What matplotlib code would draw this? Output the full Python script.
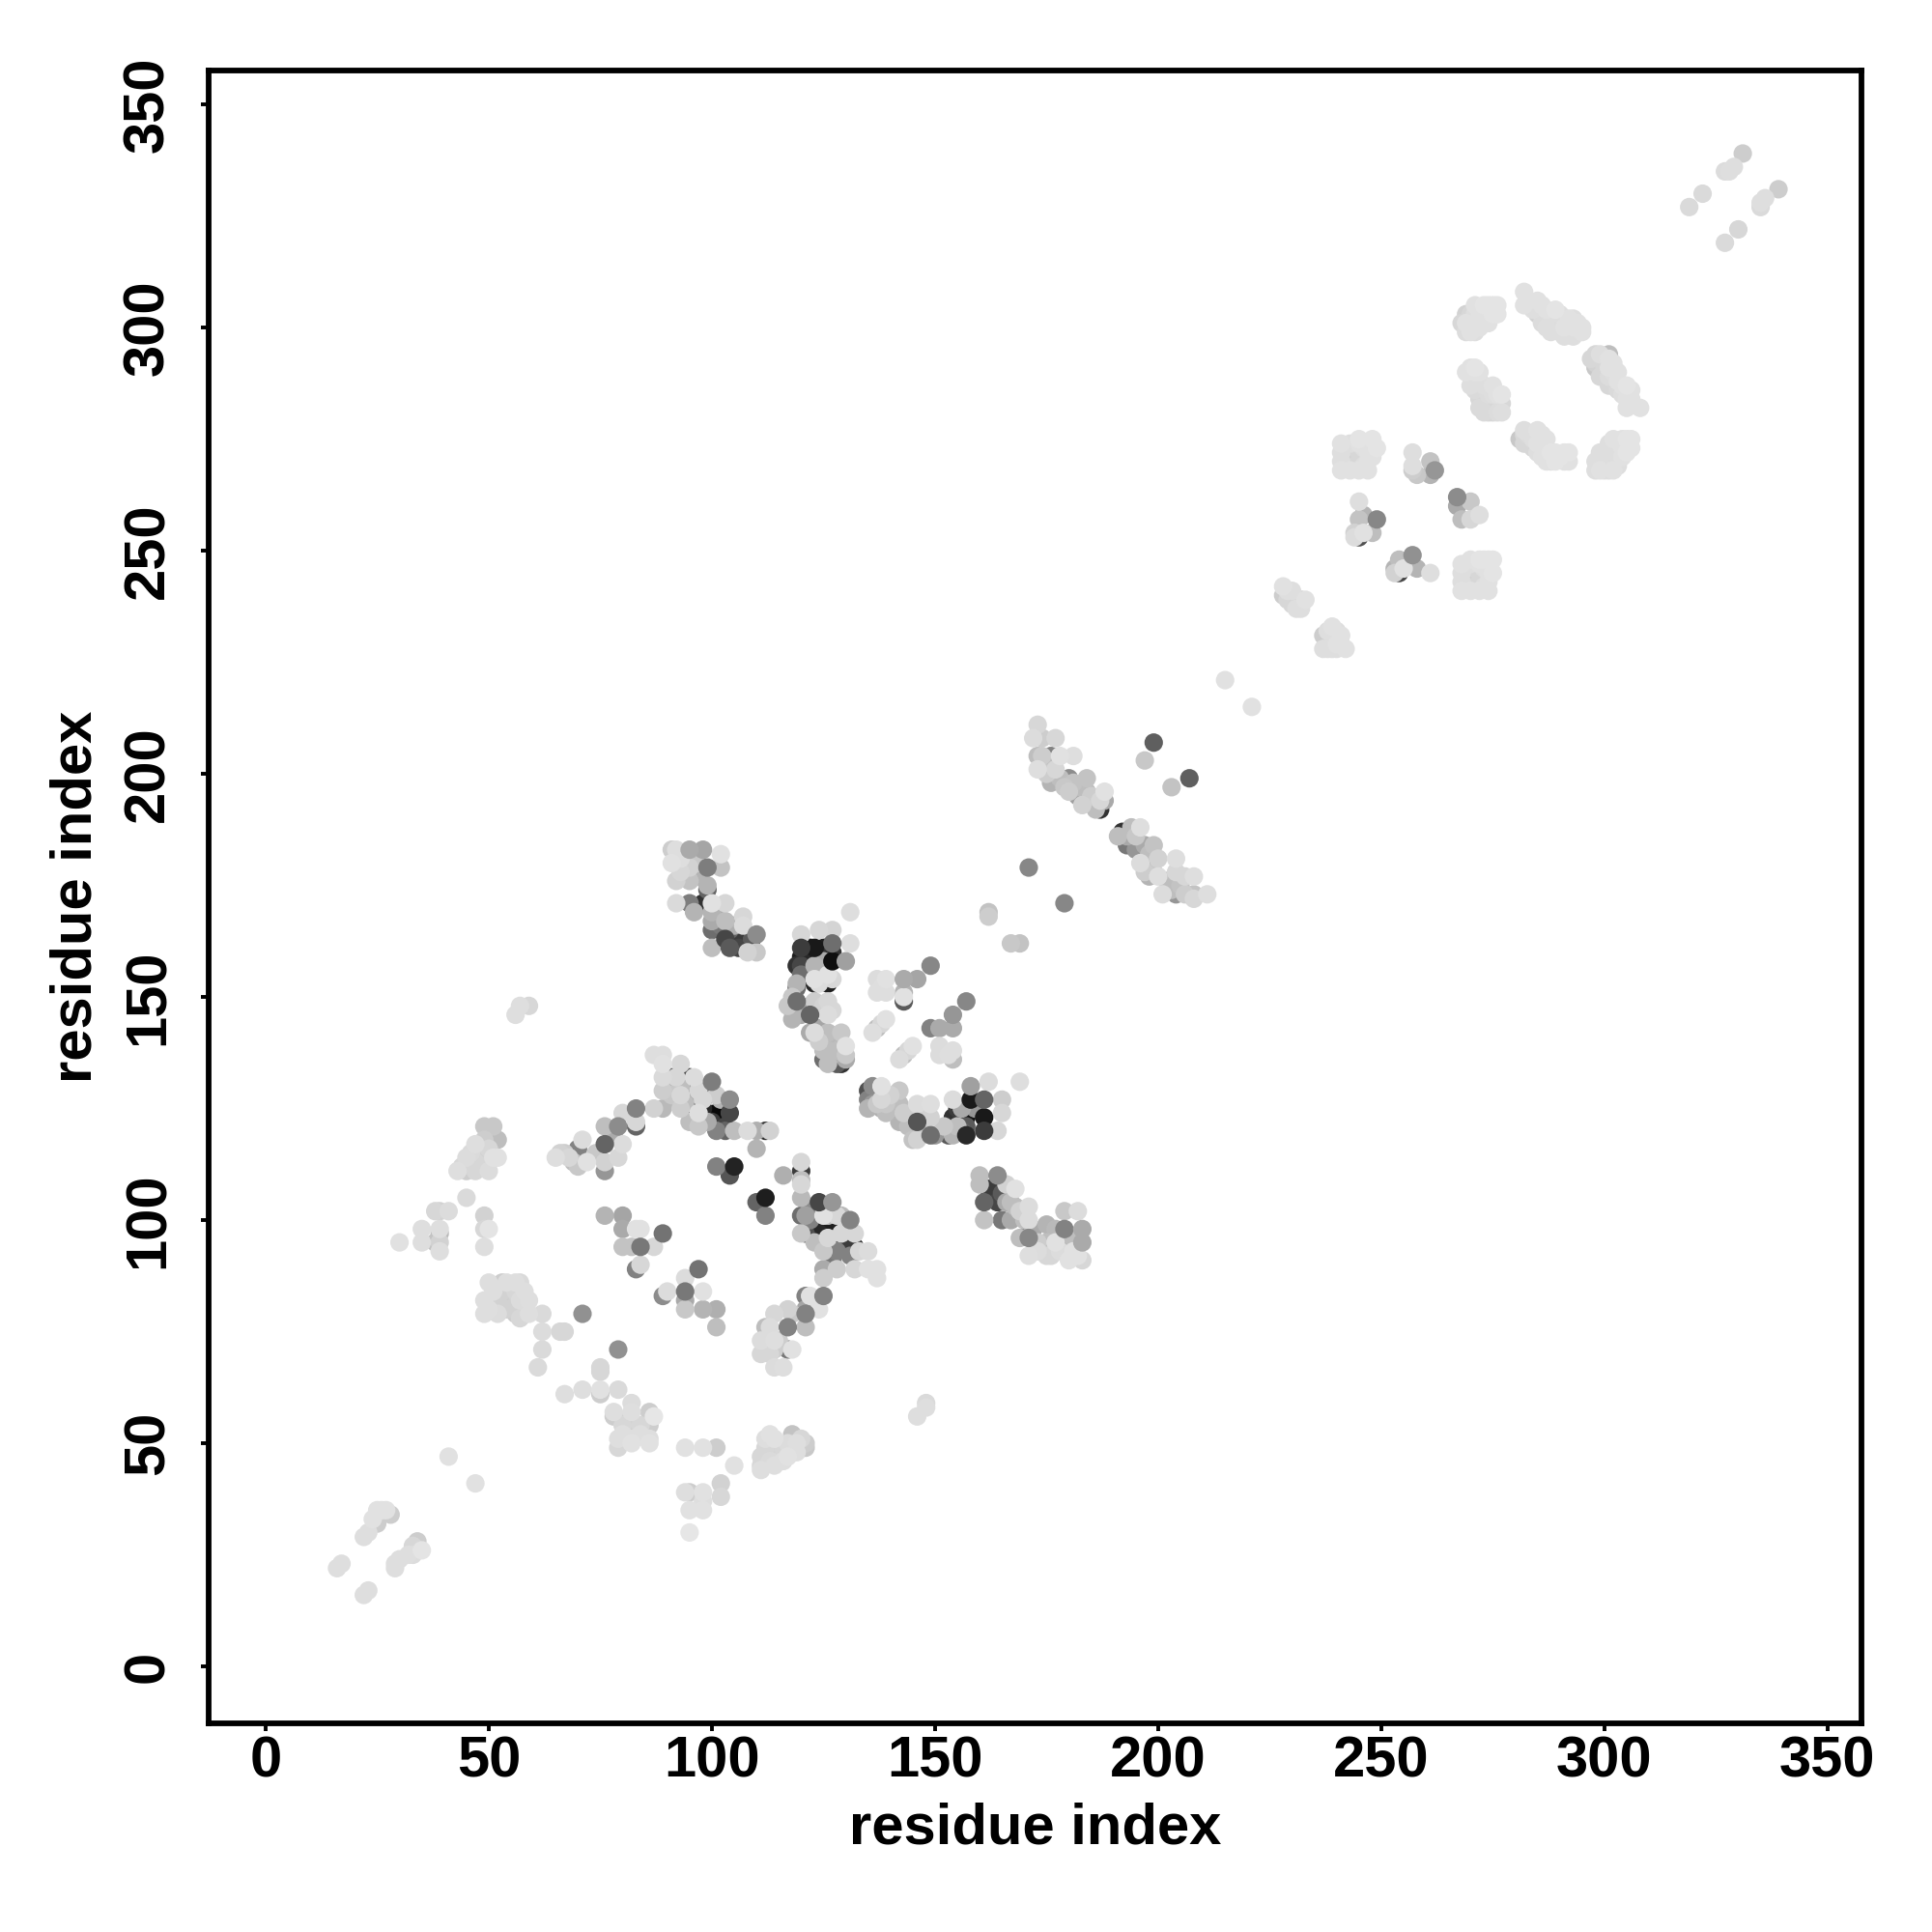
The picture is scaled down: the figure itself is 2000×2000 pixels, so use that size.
import numpy as np
import matplotlib
matplotlib.use("Agg")
import matplotlib.pyplot as plt

# each contact is (residue i, residue j, grey level 0-255)
n_term = [(16, 22, 222), (17, 23, 222), (22, 16, 222), (23, 17, 222), (22, 29, 222), (23, 30, 222),
          (24, 33, 225), (25, 35, 225), (26, 35, 225), (25, 32, 205), (27, 35, 225), (28, 34, 205),
          (29, 22, 222), (29, 23, 222), (30, 24, 222), (32, 25, 222), (33, 27, 215), (34, 28, 205),
          (35, 26, 228), (33, 25, 220), (41, 47, 225), (47, 41, 225)]
left_low = [(30, 95, 225), (35, 95, 222), (35, 98, 222), (38, 102, 215), (39, 102, 210), (41, 102, 220),
            (39, 98, 222), (39, 97, 185), (39, 95, 210), (38, 95, 195), (39, 93, 222), (45, 105, 218),
            (49, 101, 210), (49, 98, 215), (50, 98, 228), (49, 94, 222)]
left_high = [(49, 121, 200), (51, 121, 200), (52, 118, 190), (52, 114, 225), (47, 117, 222), (49, 118, 205),
             (50, 116, 215), (45, 114, 220), (47, 113, 215), (43, 111, 222), (45, 111, 205), (47, 111, 215),
             (48, 113, 210), (50, 111, 220), (51, 114, 225), (56, 146, 222), (57, 148, 222), (59, 148, 215),
             (44, 112, 215), (46, 115, 218), (48, 115, 210), (49, 112, 215)]
left_mid = [(50, 86, 222), (54, 86, 222), (56, 86, 222), (57, 86, 218), (53, 86, 205), (49, 82, 222),
            (52, 82, 210), (54, 82, 205), (57, 82, 220), (59, 82, 222), (49, 79, 222), (52, 79, 220),
            (56, 79, 205), (57, 78, 215), (59, 79, 222), (62, 79, 218), (62, 75, 220), (66, 75, 215),
            (67, 75, 215), (62, 71, 218), (61, 67, 218), (71, 79, 145), (79, 71, 145),
            (51, 84, 222), (53, 84, 210), (55, 84, 205), (56, 84, 215), (58, 84, 222), (50, 80, 222),
            (54, 80, 210), (56, 81, 210)]
low_arm = [(67, 61, 222), (71, 62, 222), (75, 67, 215), (75, 66, 215), (75, 62, 225), (75, 61, 205),
           (79, 62, 218), (78, 57, 222), (82, 59, 220), (82, 57, 222), (78, 56, 205), (81, 55, 210),
           (82, 53, 205), (86, 57, 205), (87, 56, 230), (86, 54, 205), (79, 51, 222), (79, 49, 215),
           (82, 50, 225), (82, 51, 222), (86, 50, 225), (86, 51, 222), (80, 54, 215), (84, 54, 215),
           (84, 52, 222), (80, 52, 222)]
low_mid = [(94, 49, 225), (98, 49, 225), (101, 49, 205), (105, 45, 225), (95, 39, 205), (94, 39, 222),
           (98, 39, 225), (102, 41, 210), (102, 38, 215), (98, 37, 222), (95, 35, 225), (98, 35, 225),
           (95, 30, 230), (111, 44, 222), (111, 45, 215), (111, 47, 215), (112, 49, 215), (113, 52, 225),
           (112, 46, 210), (114, 48, 205), (114, 45, 222), (117, 47, 225), (118, 52, 195), (121, 50, 205),
           (121, 49, 200), (116, 49, 215), (114, 51, 225), (112, 51, 222), (146, 56, 222), (148, 59, 218),
           (148, 58, 222), (113, 47, 210), (113, 46, 218), (115, 46, 215), (115, 49, 212), (117, 50, 220),
           (119, 50, 222), (120, 51, 215), (119, 48, 222), (116, 46, 222)]
arm_125 = [(87, 137, 222), (89, 137, 222), (89, 135, 225), (93, 135, 215), (89, 132, 218), (89, 129, 205),
           (87, 125, 210), (89, 125, 185), (93, 125, 205), (92, 132, 215), (91, 132, 90), (96, 132, 220),
           (95, 132, 70), (100, 131, 125), (104, 127, 140), (104, 124, 70), (101, 124, 10), (101, 128, 205),
           (99, 128, 30), (97, 129, 215), (96, 127, 40), (97, 124, 222), (96, 124, 25), (97, 121, 200),
           (101, 120, 130), (100, 122, 60), (105, 120, 190), (103, 120, 100), (108, 120, 220), (110, 120, 175),
           (112, 120, 50), (113, 120, 210), (110, 116, 180), (91, 128, 200), (93, 130, 190), (93, 128, 215),
           (94, 129, 70), (95, 128, 170), (94, 126, 190), (92, 127, 185), (98, 127, 215), (98, 125, 40),
           (99, 122, 170), (103, 121, 70), (102, 127, 180), (95, 122, 190), (90, 130, 180)]
arm_115 = [(83, 125, 130), (80, 124, 215), (83, 122, 215), (83, 121, 100), (79, 121, 140), (76, 121, 190),
           (80, 117, 220), (76, 117, 100), (71, 118, 220), (70, 116, 130), (66, 115, 210), (68, 114, 215),
           (70, 112, 200), (72, 113, 225), (76, 113, 210), (76, 111, 150), (79, 114, 215), (65, 114, 222),
           (67, 115, 205), (69, 113, 190), (74, 115, 200), (78, 119, 170)]
sheet_100 = [(76, 101, 180), (80, 101, 165), (80, 98, 170), (80, 94, 195), (82, 94, 195), (83, 98, 225),
             (84, 98, 225), (84, 94, 120), (87, 94, 215), (89, 97, 115), (83, 89, 130), (84, 90, 215),
             (97, 89, 115), (94, 87, 220), (89, 83, 140), (90, 84, 220), (94, 84, 120), (94, 82, 170),
             (94, 80, 200), (98, 84, 225), (98, 80, 180), (101, 80, 175), (101, 76, 190), (101, 112, 130),
             (104, 110, 85), (105, 112, 35), (112, 105, 30), (110, 104, 100), (112, 101, 130)]
sheet_97 = [(116, 110, 175), (120, 113, 215), (120, 111, 60), (120, 109, 190), (120, 108, 215), (120, 105, 185),
            (120, 101, 110), (121, 101, 160), (120, 97, 200), (124, 104, 70), (127, 104, 150), (131, 100, 130),
            (124, 100, 20), (125, 101, 225), (128, 101, 215), (127, 99, 20), (124, 97, 40), (125, 93, 200),
            (128, 93, 130), (127, 93, 40), (128, 97, 20), (129, 97, 215), (126, 96, 215), (132, 97, 215),
            (132, 94, 50), (133, 93, 215), (135, 93, 220), (125, 89, 170), (125, 87, 205), (128, 89, 205),
            (132, 89, 215), (135, 89, 225), (137, 89, 225), (137, 87, 225), (123, 99, 40), (126, 99, 30),
            (126, 101, 190), (129, 99, 30), (129, 101, 185), (130, 98, 215), (130, 95, 60), (131, 92, 130),
            (127, 91, 120), (123, 95, 190), (122, 100, 130), (122, 103, 140), (121, 97, 80)]
sheet_75 = [(125, 83, 130), (121, 83, 130), (122, 83, 225), (124, 80, 225), (121, 79, 130), (121, 80, 165),
            (117, 80, 210), (118, 79, 200), (114, 79, 215), (121, 76, 190), (117, 76, 130), (112, 76, 190),
            (113, 76, 220), (118, 71, 225), (117, 71, 120), (114, 71, 205), (111, 73, 220), (111, 70, 215),
            (113, 70, 215), (114, 67, 220), (116, 67, 222), (114, 73, 222), (115, 73, 205)]
block_160 = [(131, 169, 222), (131, 162, 222), (130, 158, 160), (120, 164, 215), (124, 165, 215), (127, 165, 212),
             (120, 161, 60), (123, 161, 25), (122, 161, 25), (127, 162, 110), (127, 160, 50), (119, 157, 50),
             (120, 157, 70), (123, 157, 180), (122, 158, 30), (127, 158, 15), (119, 153, 180), (119, 152, 110),
             (123, 154, 225), (123, 153, 40), (127, 154, 215), (126, 153, 30), (125, 158, 170), (120, 155, 110),
             (121, 156, 40), (121, 159, 40), (124, 156, 30), (124, 153, 220), (126, 155, 225), (120, 159, 30),
             (125, 161, 30)]
block_145 = [(119, 149, 110), (118, 145, 180), (118, 147, 180), (117, 148, 200), (123, 149, 205), (122, 146, 100),
             (126, 149, 215), (126, 146, 220), (122, 142, 170), (123, 142, 220), (126, 142, 190), (129, 142, 200),
             (125, 138, 190), (125, 136, 110), (126, 138, 190), (130, 139, 225), (130, 137, 200), (129, 135, 50),
             (130, 136, 170), (118, 150, 200), (122, 148, 160), (125, 148, 210), (124, 143, 165), (124, 140, 205),
             (127, 140, 185), (127, 137, 180), (126, 135, 190), (128, 138, 190), (128, 135, 90), (127, 147, 215),
             (120, 146, 170)]
block_150 = [(149, 157, 135), (146, 154, 165), (143, 154, 170), (137, 154, 220), (139, 154, 225), (137, 151, 222),
             (139, 151, 222), (143, 151, 180), (143, 149, 90), (143, 150, 225), (136, 142, 222), (137, 143, 190),
             (139, 145, 225), (142, 136, 220), (143, 137, 190), (145, 139, 225), (157, 149, 135), (154, 146, 150),
             (151, 143, 170), (149, 143, 130), (154, 143, 170), (151, 137, 220), (154, 138, 222), (154, 136, 190),
             (138, 144, 215), (144, 138, 215), (151, 139, 220), (153, 137, 222), (138, 152, 222)]
block_125 = [(135, 129, 80), (136, 130, 140), (138, 130, 225), (142, 129, 200), (135, 125, 180), (139, 126, 200),
             (142, 126, 190), (146, 126, 220), (149, 126, 222), (142, 122, 180), (146, 122, 85), (149, 123, 210),
             (149, 119, 110), (145, 118, 195), (146, 118, 210), (153, 119, 90), (154, 119, 180), (154, 127, 220),
             (154, 123, 50), (158, 130, 160), (162, 131, 220), (169, 131, 222), (158, 127, 25), (157, 123, 20),
             (157, 119, 40), (161, 127, 100), (161, 123, 25), (161, 120, 60), (165, 127, 205), (165, 124, 215),
             (164, 120, 215), (157, 121, 90), (156, 125, 170), (137, 128, 100), (137, 126, 200), (138, 127, 215),
             (139, 124, 190), (140, 128, 210), (140, 125, 190), (143, 124, 205), (144, 121, 190), (147, 124, 210),
             (147, 120, 195), (150, 119, 150), (155, 121, 190), (159, 125, 150), (155, 125, 60), (156, 120, 100),
             (152, 121, 200), (141, 127, 180), (135, 127, 130), (136, 128, 80), (136, 126, 150), (138, 125, 175)]
block_100 = [(160, 110, 190), (160, 108, 190), (164, 110, 140), (161, 104, 100), (161, 100, 195), (164, 106, 50),
             (164, 104, 70), (165, 100, 120), (166, 108, 210), (168, 107, 225), (167, 104, 190), (167, 100, 170),
             (171, 103, 220), (171, 100, 220), (171, 97, 80), (171, 96, 135), (169, 96, 190), (171, 92, 222),
             (175, 99, 180), (175, 95, 190), (175, 92, 215), (176, 92, 215), (179, 102, 200), (182, 102, 220),
             (179, 98, 130), (179, 95, 180), (183, 98, 170), (183, 95, 170), (180, 91, 225), (183, 91, 215),
             (177, 95, 225), (162, 107, 60), (165, 106, 90), (166, 104, 170), (168, 103, 190), (169, 102, 210),
             (170, 100, 190), (172, 98, 170), (173, 95, 205), (173, 93, 220), (177, 98, 185), (178, 93, 220),
             (181, 93, 225), (181, 96, 190), (182, 92, 225)]
block_170 = [(91, 183, 205), (92, 183, 222), (95, 183, 170), (98, 183, 165), (102, 182, 225), (102, 179, 195),
             (99, 179, 125), (91, 180, 225), (95, 179, 210), (94, 179, 110), (92, 176, 210), (95, 176, 195),
             (99, 175, 180), (99, 174, 100), (92, 171, 218), (95, 171, 125), (96, 169, 180), (100, 171, 225),
             (103, 171, 215), (98, 171, 50), (100, 169, 180), (100, 165, 110), (100, 167, 170), (103, 167, 190),
             (103, 163, 70), (103, 165, 60), (107, 168, 215), (107, 166, 220), (110, 164, 140), (107, 164, 30),
             (100, 161, 190), (104, 161, 90), (108, 160, 210), (110, 160, 200), (93, 181, 222), (94, 177, 195),
             (97, 177, 180), (97, 180, 200), (93, 178, 215), (101, 169, 170), (102, 166, 120), (104, 165, 100),
             (105, 163, 60), (106, 163, 50), (105, 166, 175), (109, 163, 90), (106, 161, 70)]
mid_singles = [(162, 169, 195), (162, 168, 205), (171, 179, 135), (179, 171, 135), (167, 162, 200), (169, 162, 195),
               (199, 207, 95), (197, 203, 200), (207, 199, 95), (203, 197, 195), (215, 221, 225), (221, 215, 225)]
hairpin_upper = [(173, 211, 215), (172, 208, 220), (174, 208, 205), (177, 208, 215), (173, 204, 190), (174, 204, 205),
                 (176, 204, 130), (178, 204, 225), (181, 204, 222), (173, 201, 222), (177, 201, 215), (176, 198, 180),
                 (180, 199, 140), (180, 196, 205), (181, 198, 195), (184, 199, 195), (184, 196, 190), (184, 194, 150),
                 (183, 193, 210), (188, 196, 225), (188, 194, 170), (187, 192, 50), (186, 192, 190), (175, 200, 205),
                 (178, 199, 190), (179, 197, 200), (182, 197, 190), (185, 195, 205), (186, 194, 190), (187, 194, 215),
                 (182, 195, 160), (175, 203, 190)]
hairpin_lower = [(192, 187, 50), (191, 186, 190), (194, 188, 190), (196, 188, 222), (193, 184, 120), (197, 184, 170),
                 (199, 184, 195), (196, 180, 220), (199, 181, 180), (198, 179, 120), (198, 177, 180), (200, 177, 222),
                 (201, 173, 220), (204, 181, 222), (204, 178, 215), (204, 176, 130), (204, 173, 150), (208, 177, 222),
                 (208, 173, 195), (208, 172, 215), (211, 173, 222), (193, 186, 170), (195, 186, 200), (195, 183, 150),
                 (198, 182, 190), (200, 181, 210), (197, 178, 205), (199, 178, 200), (202, 176, 190), (205, 175, 195),
                 (206, 177, 215), (206, 173, 205), (203, 174, 190)]
strand_235 = [(228, 242, 225), (228, 240, 205), (230, 241, 222), (230, 238, 215), (231, 237, 222), (233, 239, 225),
              (232, 239, 205), (239, 233, 225), (237, 231, 205), (237, 228, 222), (240, 229, 225), (242, 228, 225),
              (241, 231, 225), (240, 228, 222), (229, 241, 222), (229, 239, 215), (231, 239, 215), (232, 237, 222),
              (238, 232, 222), (238, 230, 205), (239, 231, 215), (238, 228, 222), (241, 229, 225), (239, 228, 222),
              (240, 232, 222)]
square_270 = [(241, 268, 225), (243, 268, 225), (245, 268, 225), (247, 268, 225), (241, 270, 222), (243, 270, 210),
              (245, 270, 215), (247, 270, 225), (241, 272, 222), (243, 272, 205), (245, 272, 215), (247, 272, 225),
              (241, 274, 225), (243, 274, 222), (245, 274, 225), (247, 274, 225), (245, 275, 228), (248, 275, 228),
              (249, 273, 228), (242, 269, 215), (244, 269, 210), (246, 269, 222), (242, 271, 210), (244, 271, 205),
              (246, 271, 215), (242, 273, 215), (244, 273, 212), (246, 273, 222), (248, 273, 225), (248, 271, 225)]
square_245 = [(268, 241, 225), (270, 241, 225), (272, 241, 225), (274, 241, 225), (268, 243, 222), (270, 243, 210),
              (272, 243, 215), (274, 243, 225), (268, 245, 222), (270, 245, 205), (272, 245, 215), (274, 245, 225),
              (268, 247, 225), (270, 247, 222), (272, 247, 225), (274, 247, 225), (272, 248, 228), (275, 248, 228),
              (275, 245, 228), (269, 242, 215), (271, 242, 210), (273, 242, 222), (269, 244, 210), (271, 244, 205),
              (273, 244, 215), (269, 246, 215), (271, 246, 212), (273, 246, 222), (274, 248, 228), (273, 248, 228),
              (270, 248, 225)]
patches_255 = [(257, 272, 222), (257, 269, 222), (257, 268, 205), (261, 270, 195), (262, 268, 150), (261, 267, 180),
               (258, 267, 200), (267, 262, 140), (267, 260, 170), (270, 261, 200), (268, 257, 190), (270, 257, 215),
               (272, 258, 222), (245, 261, 222), (246, 258, 180), (245, 257, 195), (249, 257, 135), (244, 254, 210),
               (245, 253, 80), (246, 254, 225), (248, 254, 190), (244, 253, 220), (257, 249, 145), (254, 248, 190),
               (253, 246, 180), (254, 245, 70), (255, 246, 225), (258, 246, 180), (261, 245, 222), (253, 245, 210)]
ring_top = [(269, 299, 220), (268, 301, 215), (269, 303, 210), (270, 301, 215), (271, 303, 222), (272, 300, 225),
            (272, 303, 225), (273, 305, 228), (275, 305, 228), (275, 303, 228), (282, 308, 225), (282, 305, 225),
            (285, 306, 225), (286, 305, 225), (289, 304, 228), (285, 303, 210), (288, 301, 215), (290, 303, 222),
            (291, 298, 222), (292, 302, 225), (294, 301, 225), (294, 299, 170), (290, 299, 222), (287, 300, 222)]
ring_top_fill = [(269, 301, 225), (270, 299, 225), (270, 303, 215), (271, 299, 222), (271, 301, 210), (272, 301, 215),
                 (273, 301, 222), (273, 303, 222), (274, 303, 225), (274, 305, 228), (276, 305, 228), (276, 303, 228),
                 (274, 301, 225), (271, 305, 225), (283, 306, 225), (284, 304, 222), (285, 304, 215), (286, 303, 215),
                 (286, 301, 220), (287, 304, 225), (287, 302, 215), (288, 303, 222), (288, 299, 222), (289, 300, 220),
                 (289, 302, 218), (290, 301, 215), (291, 301, 220), (291, 300, 225), (292, 299, 222), (293, 300, 225),
                 (293, 302, 222), (295, 300, 225), (293, 298, 222), (295, 299, 225)]
ring_mid = [(298, 294, 215), (301, 294, 190), (298, 291, 200), (301, 293, 225), (299, 289, 215), (303, 290, 225),
            (301, 287, 215), (306, 286, 225), (305, 284, 225), (305, 282, 225), (308, 282, 225), (302, 292, 225),
            (270, 291, 225), (270, 289, 222), (270, 287, 222), (272, 288, 222), (273, 284, 215), (275, 287, 225),
            (277, 285, 228), (273, 281, 218), (275, 281, 215), (277, 283, 215)]
ring_mid_fill = [(297, 293, 215), (298, 292, 210), (299, 292, 205), (299, 294, 222), (300, 291, 215), (300, 289, 210),
                 (301, 291, 225), (302, 290, 222), (302, 288, 215), (303, 288, 225), (303, 286, 218), (304, 287, 225),
                 (304, 285, 222), (305, 287, 228), (301, 289, 220), (300, 293, 215), (306, 284, 225), (269, 290, 225),
                 (271, 290, 225), (271, 288, 222), (271, 286, 218), (272, 286, 215), (272, 284, 215), (273, 287, 222),
                 (274, 285, 220), (274, 283, 215), (275, 285, 222), (276, 283, 215), (276, 281, 220), (274, 281, 215),
                 (272, 282, 218), (273, 282, 215), (277, 281, 222), (271, 291, 228), (272, 290, 225), (276, 285, 225)]
ring_low = [(281, 275, 200), (282, 277, 222), (285, 277, 225), (285, 274, 225), (282, 274, 215), (287, 275, 225),
            (287, 270, 225), (291, 270, 225), (288, 272, 228), (291, 272, 228), (298, 268, 222), (299, 270, 222),
            (300, 272, 222), (300, 268, 222), (301, 274, 222), (302, 270, 218), (303, 269, 222), (305, 275, 228),
            (305, 272, 228), (302, 275, 225)]
ring_low_fill = [(282, 276, 215), (283, 274, 210), (283, 276, 220), (284, 273, 215), (284, 275, 222), (285, 272, 222),
                 (286, 274, 225), (286, 271, 225), (287, 272, 225), (288, 270, 225), (289, 270, 228), (289, 272, 228),
                 (290, 271, 228), (292, 270, 225), (292, 272, 228), (286, 276, 225), (298, 270, 222), (299, 272, 222),
                 (299, 268, 225), (300, 270, 218), (301, 272, 215), (301, 270, 218), (301, 268, 222), (302, 272, 218),
                 (303, 274, 222), (303, 271, 222), (304, 273, 225), (304, 275, 225), (306, 275, 228), (306, 273, 228),
                 (304, 271, 225), (302, 268, 225)]
c_term = [(319, 327, 218), (322, 330, 218), (331, 339, 205), (327, 335, 220), (328, 335, 222), (329, 336, 222),
          (327, 319, 218), (330, 322, 215), (335, 328, 222), (335, 327, 218), (336, 329, 222), (339, 331, 205)]

# darker contacts that sit above their pale neighbours in the picture
over_pale = [(104, 127), (104, 124), (100, 131), (127, 162), (127, 158), (123, 161), (120, 161), (158, 130),
             (158, 127), (161, 127), (161, 123), (157, 119), (161, 120), (146, 122), (149, 119), (124, 104),
             (127, 104), (131, 100), (171, 96), (179, 98), (183, 98), (183, 95), (164, 110), (161, 104),
             (119, 149), (122, 146), (99, 179), (98, 183), (95, 183), (103, 163), (104, 161), (110, 164),
             (94, 84), (84, 94), (97, 89), (89, 97), (154, 146), (157, 149), (143, 154), (146, 154),
             (79, 121), (83, 125), (76, 117), (125, 83), (121, 79), (117, 76), (262, 268), (249, 257),
             (257, 249), (267, 262), (105, 112), (112, 105), (130, 158)]

x_ticks = [0, 50, 100, 150, 200, 250, 300, 350]
y_ticks = [0, 50, 100, 150, 200, 250, 300, 350]

contacts = np.array(n_term + left_low + left_high + left_mid + low_arm + low_mid + arm_125 + arm_115
                    + sheet_100 + sheet_97 + sheet_75 + block_160 + block_145 + block_150 + block_125
                    + block_100 + block_170 + mid_singles + hairpin_upper + hairpin_lower + strand_235
                    + square_270 + square_245 + patches_255 + ring_top + ring_top_fill + ring_mid
                    + ring_mid_fill + ring_low + ring_low_fill + c_term)
# pale discs go over dark ones, except the contacts listed in over_pale
is_over = np.array([(int(i), int(j)) in over_pale for i, j in contacts[:, :2]])
contacts = contacts[np.lexsort((contacts[:, 2], is_over))]

plt.rcParams["font.family"] = ["Liberation Sans", "DejaVu Sans"]
plt.rcParams["font.weight"] = "bold"

fig = plt.figure(figsize=(20, 20), dpi=100)
ax = fig.add_axes([0.108, 0.108, 0.8555, 0.8555])
ax.scatter(contacts[:, 0], contacts[:, 1], c=contacts[:, 2], cmap="gray", vmin=0, vmax=255, s=190, linewidths=0)

ax.set_xlim(-12.77, 357.6)
ax.set_ylim(-12.77, 357.6)
ax.set_xticks(x_ticks)
ax.set_yticks(y_ticks)
ax.tick_params(axis="x", length=6, width=2.8, labelsize=43, pad=3)
ax.tick_params(axis="y", length=6, width=2.8, labelsize=43, pad=19, labelrotation=90)
for label in ax.get_yticklabels():
    label.set_va("center")
for spine in ax.spines.values():
    spine.set_linewidth(4.2)

ax.set_xlabel("residue index", fontsize=43, fontweight="bold", labelpad=10)
ax.set_ylabel("residue index", fontsize=43, fontweight="bold", labelpad=14)

fig.savefig("out.png", dpi=100)
